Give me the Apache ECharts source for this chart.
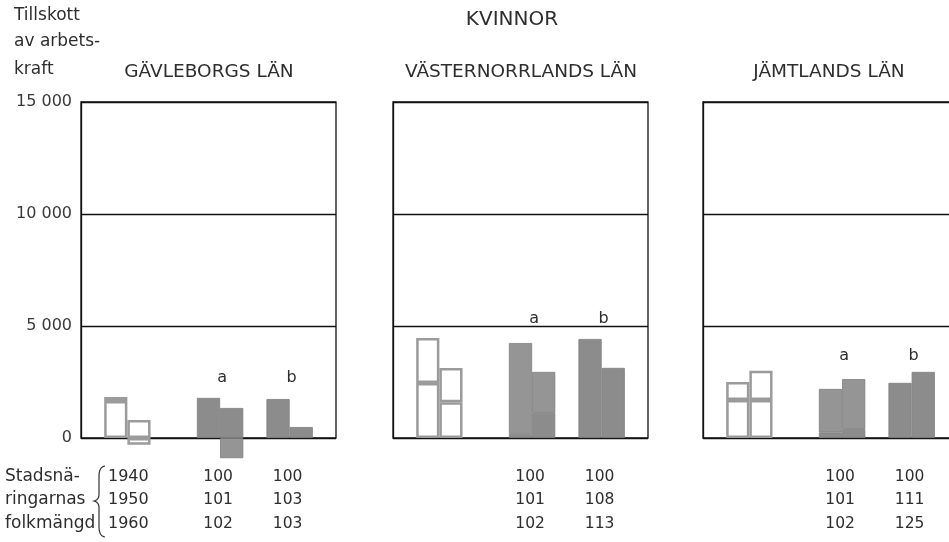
<!DOCTYPE html>
<html><head><meta charset="utf-8">
<script src="https://cdn.jsdelivr.net/npm/echarts@6/dist/echarts.min.js"></script>
<style>html,body{margin:0;padding:0;background:#fff}#c{width:949px;height:542px}</style>
</head><body><div id="c"></div>
<script>
// slot categories (g* are empty spacing slots, h* hollow bars, a*/b* grey bars)
const slots = ['g0','h1','h2','g1','g2','a1','a2','g3','b1','b2','g4'];
const panelNames = ['GÄVLEBORGS LÄN', 'VÄSTERNORRLANDS LÄN', 'JÄMTLANDS LÄN'];
// first (lower) and second (upper / negative) segment of each bar
const gavleSeg1 = [null, 1650, 800, null, null, 1790, 1340, null, 1740, 490, null];
const gavleSeg2 = [null, 180, -300, null, null, null, -900, null, null, null, null];
const vnorrSeg1 = [null, 2450, 1600, null, null, 180, 1120, null, 4420, 3130, null];
const vnorrSeg2 = [null, 2010, 1530, null, null, 4060, 1830, null, null, null, null];
const jamtSeg1 = [null, 1700, 1700, null, null, 250, 400, null, 2460, 2950, null];
const jamtSeg2 = [null, 800, 1300, null, null, 1940, 2230, null, null, null, null];
const yTicks = [0, 5000, 10000, 15000];
const years = ['1940', '1950', '1960'];
const rowLabels = ['Stadsnä-', 'ringarnas', 'folkmängd'];
const gavleIdxA = ['100', '101', '102'];
const gavleIdxB = ['100', '103', '103'];
const vnorrIdxA = ['100', '101', '102'];
const vnorrIdxB = ['100', '108', '113'];
const jamtIdxA = ['100', '101', '102'];
const jamtIdxB = ['100', '111', '125'];
const yName = ['Tillskott', 'av arbets-', 'kraft'];
const mainTitle = 'KVINNOR';

const segs = [[gavleSeg1, gavleSeg2], [vnorrSeg1, vnorrSeg2], [jamtSeg1, jamtSeg2]];
const idx = [[gavleIdxA, gavleIdxB], [vnorrIdxA, vnorrIdxB], [jamtIdxA, jamtIdxB]];

const FONT = '"DejaVu Sans"';
const TXT = '#2e2e2e';
const gridLefts = [81, 393, 703];
const titleCenters = [209, 521, 829];
const labelOffsetY = [20, 20, 16];
const GRID_TOP = 102, GRID_W = 255, GRID_H = 336;

function styleFor(slot, seg) {
  if (slot[0] === 'h') return {color: '#ffffff', borderColor: '#9b9b9b', borderWidth: 2.5};
  return {color: seg === 0 ? '#8c8c8c' : '#959595', borderColor: '#7f7f7f', borderWidth: 0.8};
}
function fmt(v) { return String(v).replace(/\B(?=(\d{3})+(?!\d))/g, ' '); }

const grids = [], xAxes = [], yAxes = [], series = [];
for (let p = 0; p < 3; p++) {
  grids.push({left: gridLefts[p], top: GRID_TOP, width: GRID_W, height: GRID_H,
    outerBoundsMode: 'none', containLabel: false,
    show: true, borderColor: '#111', borderWidth: 1.3, backgroundColor: 'transparent'});
  xAxes.push({type: 'category', gridIndex: p, data: slots, boundaryGap: true,
    axisLine: {show: false}, axisTick: {show: false}, axisLabel: {show: false}, splitLine: {show: false}});
  yAxes.push({type: 'value', gridIndex: p, min: yTicks[0], max: yTicks[yTicks.length - 1],
    interval: yTicks[1] - yTicks[0],
    axisLine: {show: true, lineStyle: {color: '#111', width: 1.3}}, axisTick: {show: false},
    splitLine: {show: true, lineStyle: {color: '#111', width: 1.3}},
    axisLabel: {show: p === 0, fontFamily: FONT, fontSize: 16, color: '#3a3a3a', margin: 9, formatter: fmt}});
  for (let s = 0; s < 2; s++) {
    series.push({type: 'bar', xAxisIndex: p, yAxisIndex: p, stack: 'p' + p, clip: false,
      barCategoryGap: '0%', barGap: '0%', animation: false,
      data: segs[p][s].map((v, i) => v == null ? '-' : {value: v, itemStyle: styleFor(slots[i], s)})});
  }
}

const chart = echarts.init(document.getElementById('c'), null, {renderer: 'canvas'});
chart.setOption({
  animation: false,
  grid: grids, xAxis: xAxes, yAxis: yAxes, series: series
});

const graphic = [];
function txt(x, y, text, size, align) {
  graphic.push({type: 'text', x: x, y: y, style: {text: text, fontFamily: FONT, fontSize: size,
    fill: TXT, align: align || 'center', verticalAlign: 'middle'}});
}
txt(512, 20, mainTitle, 20);
yName.forEach((t, i) => txt(14, [16, 42, 70][i], t, 17, 'left'));
const rowY = [477, 500, 524];
for (let p = 0; p < 3; p++) {
  txt(titleCenters[p], 72, panelNames[p], 18.5);
  // label height from tallest bar in the a/b groups
  let maxTop = 0;
  ['a1', 'a2', 'b1', 'b2'].forEach(c => {
    const i = slots.indexOf(c);
    const top = (segs[p][0][i] > 0 ? segs[p][0][i] : 0) + (segs[p][1][i] > 0 ? segs[p][1][i] : 0);
    maxTop = Math.max(maxTop, top);
  });
  const labY = chart.convertToPixel({yAxisIndex: p}, maxTop) - labelOffsetY[p];
  ['a', 'b'].forEach((g, gi) => {
    const x1 = chart.convertToPixel({xAxisIndex: p}, g + '1');
    const x2 = chart.convertToPixel({xAxisIndex: p}, g + '2');
    const cx = (x1 + x2) / 2;
    txt(cx + 2, labY, g, 16);
    idx[p][gi].forEach((v, r) => txt(cx - 2, rowY[r], v, 15.5));
  });
}
rowLabels.forEach((t, r) => txt(5, rowY[r], t, 17, 'left'));
years.forEach((t, r) => txt(108, rowY[r], t, 16, 'left'));

// curly brace drawn as a polyline
function quad(p0, c, p1, n) {
  const pts = [];
  for (let k = 0; k <= n; k++) {
    const t = k / n;
    pts.push([(1-t)*(1-t)*p0[0] + 2*(1-t)*t*c[0] + t*t*p1[0], (1-t)*(1-t)*p0[1] + 2*(1-t)*t*c[1] + t*t*p1[1]]);
  }
  return pts;
}
const bracePts = [].concat(
  quad([105, 466], [99, 467], [99, 476], 8),
  quad([99, 494], [99, 500], [94, 501], 6),
  quad([94, 501], [99, 502], [99, 508], 6),
  quad([99, 527], [99, 536], [105, 537], 8));
graphic.push({type: 'polyline', shape: {points: bracePts},
  style: {stroke: '#333', lineWidth: 1.2, fill: null}});
chart.setOption({graphic: graphic});
</script></body></html>
